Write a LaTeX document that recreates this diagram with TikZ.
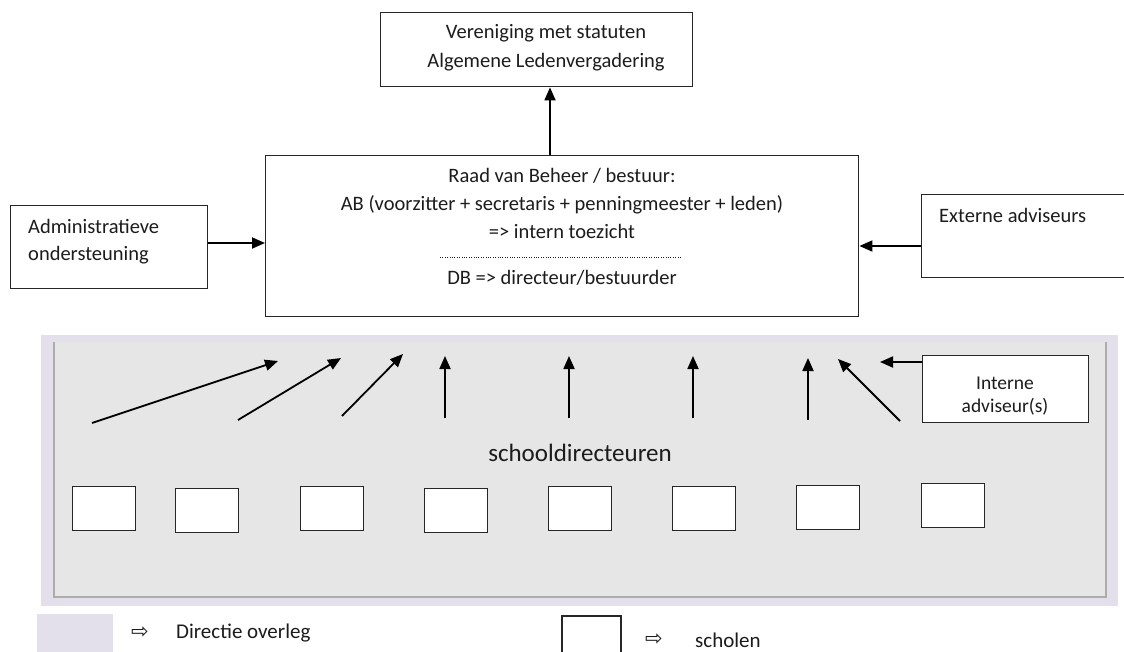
\documentclass[tikz,border=0pt]{standalone}
\usepackage{fontspec}
\setmainfont{Carlito}
\newfontfamily\symfont{DejaVu Sans}
\usetikzlibrary{arrows.meta}
\definecolor{lav}{HTML}{E3DFEB}
\definecolor{panelgrey}{HTML}{E6E6E6}
\definecolor{edgegrey}{HTML}{ADADAD}
\definecolor{ink}{HTML}{1C1C1C}
\begin{document}
\begin{tikzpicture}[x=1pt,y=-1pt,
  box/.style={draw=black!85, line width=1.4pt, fill=white, inner sep=0pt, anchor=north west},
  txt/.style={text=ink, font=\fontsize{20.5}{28}\selectfont, inner sep=0pt, align=center},
  arr/.style={draw=black, line width=1.8pt, -{Triangle[length=13pt,width=11pt]}},
  school/.style={box, minimum width=63pt, minimum height=44pt},
  sym/.style={text=ink, font=\symfont\fontsize{21}{24}\selectfont, inner sep=0pt}]

\useasboundingbox (0,0) rectangle (1124,652);
\fill[white] (0,0) rectangle (1124,652);

% panel
\fill[lav] (41,335) rectangle (1118,606);
\fill[panelgrey] (54,342) rectangle (1106,597);
\draw[edgegrey, line width=1.2pt] (54,342) -- (54,597) -- (1106,597) -- (1106,342);

% top box
\node[box, minimum width=312pt, minimum height=74pt] (alv) at (380,12) {};
\node[txt] (alvtxt) at (546,48) {Vereniging met statuten\\[1pt]Algemene Ledenvergadering};

% main box
\node[box, minimum width=593pt, minimum height=161pt] (raad) at (265,155) {};
\node[txt] (raadtxt) at (562,203) {Raad van Beheer / bestuur:\\AB (voorzitter + secretaris + penningmeester + leden)\\=> intern toezicht};
\coordinate (dotA) at (440,258);
\coordinate (dotB) at (682,258);
\draw[ink, line width=1pt, dash pattern=on 1pt off 1.4pt] (dotA) -- (dotB);
\node[txt] (dbtxt) at (562,278) {DB => directeur/bestuurder};

% side boxes
\node[box, minimum width=197pt, minimum height=83pt] (admin) at (10,205) {};
\node[txt, align=left, anchor=west] (admintxt) at (28,241.5) {Administratieve\\[-1pt]ondersteuning};

\node[box, minimum width=215pt, minimum height=83pt] (ext) at (921,194) {};
\node[txt, anchor=west] (exttxt) at (939,215) {Externe adviseurs};

\node[box, minimum width=166pt, minimum height=67pt] (int) at (922,355) {};
\node[txt, font=\fontsize{19.5}{23}\selectfont] (inttxt) at (1005,396) {Interne\\adviseur(s)};

% connectors
\draw[arr] (raad.north -| 550,0) -- (alv.south -| 550,0);
\draw[arr] (admin.east |- 0,243) -- (raad.west |- 0,243);
\draw[arr] (ext.west |- 0,246) -- (raad.east |- 0,246);
\coordinate (intend) at (880,362);
\draw[arr] (int.west |- 0,362) -- (intend);

% arrows from school directors
\coordinate (s1) at (92,423);  \coordinate (e1) at (278,361);
\coordinate (s2) at (238,420); \coordinate (e2) at (341,358);
\coordinate (s3) at (342,416); \coordinate (e3) at (403,354);
\coordinate (s4) at (445,418); \coordinate (e4) at (445,356);
\coordinate (s5) at (569,418); \coordinate (e5) at (569,356);
\coordinate (s6) at (693,418); \coordinate (e6) at (693,356);
\coordinate (s7) at (808,420); \coordinate (e7) at (808,358);
\coordinate (s8) at (900,421); \coordinate (e8) at (838,359);
\foreach \i in {1,...,8} {\draw[arr] (s\i) -- (e\i);}

\node[text=ink, font=\fontsize{25}{30}\selectfont, inner sep=0pt] (sd) at (580,453) {schooldirecteuren};

% schools
\node[school] (sc1) at (72,486) {};
\node[school] (sc2) at (175,488) {};
\node[school] (sc3) at (300,486) {};
\node[school] (sc4) at (424,488) {};
\node[school] (sc5) at (548,486) {};
\node[school] (sc6) at (672,486) {};
\node[school] (sc7) at (796,485) {};
\node[school] (sc8) at (921,483) {};

% legend
\fill[lav] (37,614) rectangle (113,652);
\node[sym] (lsym1) at (140,633) {⇨};
\node[txt, anchor=west, font=\fontsize{21}{24}\selectfont] (ltxt1) at (176,633) {Directie overleg};
\draw[black!85, line width=1.4pt] (562,653) -- (562,616) -- (621,616) -- (621,653);
\node[sym] (lsym2) at (654,640) {⇨};
\node[txt, anchor=west, font=\fontsize{21}{24}\selectfont] (ltxt2) at (695,640) {scholen};
\end{tikzpicture}
\end{document}
